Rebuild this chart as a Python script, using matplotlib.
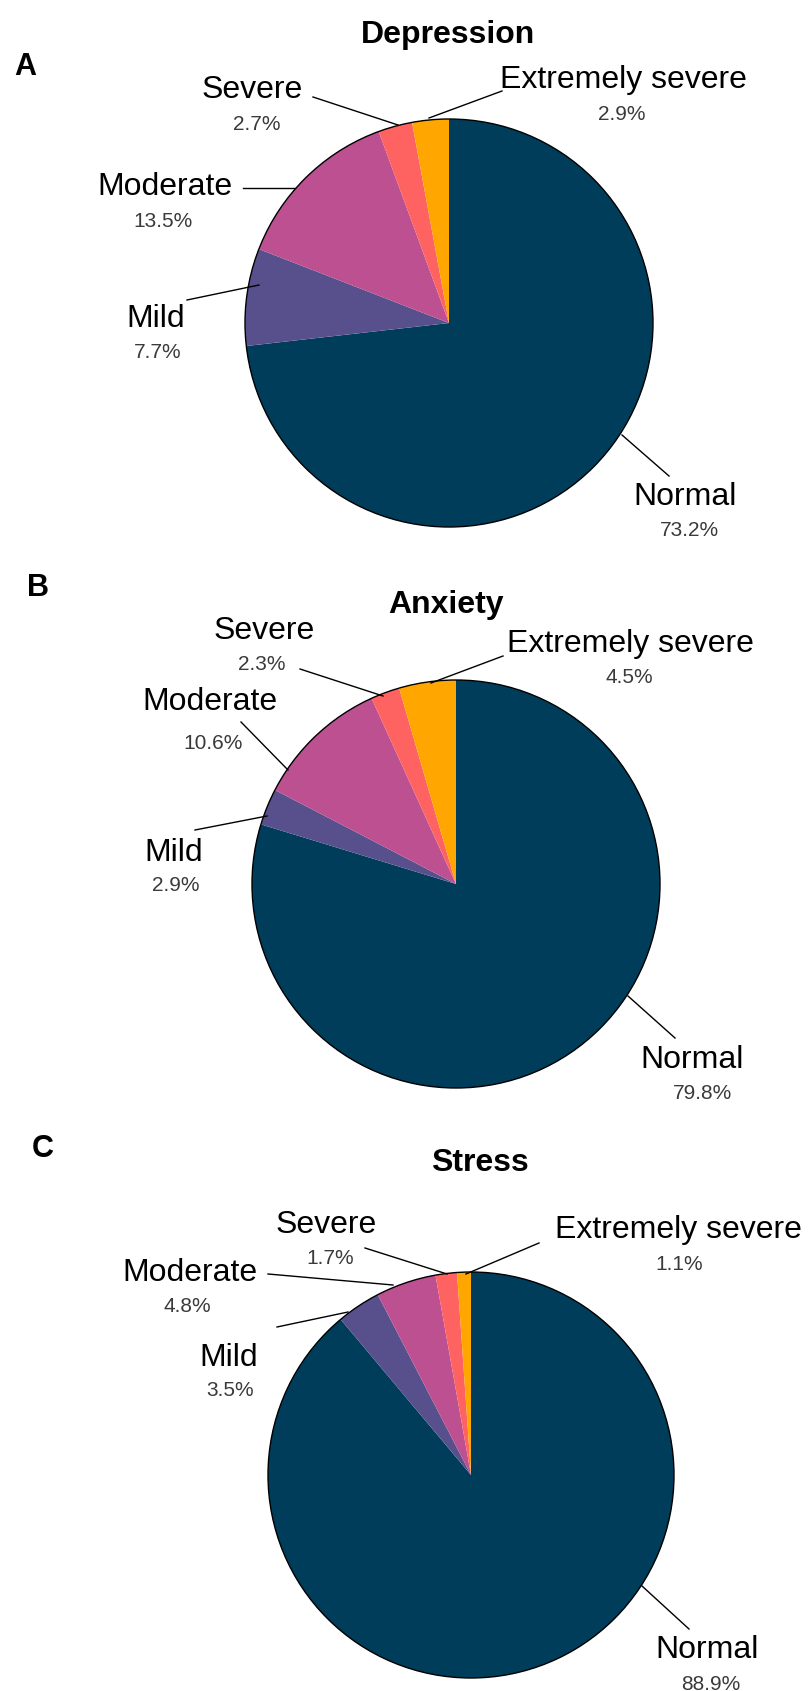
import matplotlib
matplotlib.use("Agg")
import matplotlib.pyplot as plt
from matplotlib.patches import Circle
from matplotlib.lines import Line2D

plt.rcParams['font.family'] = ['Liberation Sans', 'DejaVu Sans']

# ---------------- data ----------------
categories = ["Normal", "Mild", "Moderate", "Severe", "Extremely severe"]
depression = [73.2, 7.7, 13.5, 2.7, 2.9]
anxiety = [79.8, 2.9, 10.6, 2.3, 4.5]
stress = [88.9, 3.5, 4.8, 1.7, 1.1]
titles = ["Depression", "Anxiety", "Stress"]
panel_letters = ["A", "B", "C"]
colors = ["#003d5b", "#58508d", "#bc5090", "#ff6361", "#ffa600"]

# ---------------- layout (pixels) ----------------
W, H = 808, 1691
pie_geom = [(449, 323, 204), (456, 884, 204), (471, 1475, 203)]  # cx, cy, r
letter_pos = [(14, 75), (27, 596), (32, 1157)]
title_pos = [(448, 43), (446, 613), (479.5, 1171)]
# per category: (label x, label baseline, pct x, pct baseline)
label_pos = [
    [(685.5, 505, 689, 536), (156, 327, 158, 358), (165, 195, 163, 227),
     (252, 98, 257, 130), (623, 88, 622, 120)],
    [(692, 1068, 702, 1099), (174, 861, 176, 891), (210, 710, 213, 749),
     (264, 639, 262, 670), (630.5, 652, 629.5, 683)],
    [(707, 1658, 711, 1690), (228.5, 1366, 230.5, 1396), (189.5, 1281, 187.5, 1312),
     (326, 1233, 330, 1264), (678, 1238, 679, 1270)],
]
leader_pos = [
    [((669, 476), (622, 435)), ((187, 300), (259, 285)), ((243, 188), (295, 188)),
     ((313, 97), (398, 125)), ((502, 91), (429, 118))],
    [((675, 1038), (628, 996)), ((195, 830), (267, 816)), ((241, 722), (288, 770)),
     ((300, 669), (383, 696)), ((503, 656), (431, 683))],
    [((689, 1629), (642, 1586)), ((277, 1327), (348, 1312)), ((268, 1274), (393, 1285)),
     ((365, 1248), (447, 1274)), ((539, 1243), (466, 1274))],
]

fig = plt.figure(figsize=(W / 100, H / 100), dpi=100)
fig.patch.set_facecolor("white")


def fx(x):
    return x / W


def fy(y):
    return 1 - y / H


datasets = [depression, anxiety, stress]
for i, vals in enumerate(datasets):
    cx, cy, r = pie_geom[i]
    ax = fig.add_axes([fx(cx - r), fy(cy + r), 2 * r / W, 2 * r / H])
    ax.pie(vals, colors=colors, startangle=90, counterclock=False, radius=1,
           wedgeprops=dict(edgecolor="none", linewidth=0))
    ax.add_patch(Circle((0, 0), 1, fill=False, edgecolor="black", linewidth=1.0))
    ax.set_xlim(-1.02, 1.02)
    ax.set_ylim(-1.02, 1.02)
    # re-set axes so radius 1 maps to r pixels
    ax.set_position([fx(cx - r * 1.02), fy(cy + r * 1.02), 2 * r * 1.02 / W, 2 * r * 1.02 / H])
    ax.axis("off")

    fig.text(fx(letter_pos[i][0]), fy(letter_pos[i][1]), panel_letters[i],
             ha="left", va="baseline", fontsize=22, fontweight="bold")
    fig.text(fx(title_pos[i][0]), fy(title_pos[i][1]), titles[i],
             ha="center", va="baseline", fontsize=23, fontweight="bold")

    for j, cat in enumerate(categories):
        lx, ly, px_, py_ = label_pos[i][j]
        fig.text(fx(lx), fy(ly), cat, ha="center", va="baseline", fontsize=23,
                 color="black")
        fig.text(fx(px_), fy(py_), f"{vals[j]:.1f}%", ha="center", va="baseline",
                 fontsize=15, color="#3a3a3a")
        (x0, y0), (x1, y1) = leader_pos[i][j]
        fig.add_artist(Line2D([fx(x0), fx(x1)], [fy(y0), fy(y1)], color="black",
                              linewidth=1.0, transform=fig.transFigure))

fig.savefig("out.png", dpi=100, facecolor="white")
